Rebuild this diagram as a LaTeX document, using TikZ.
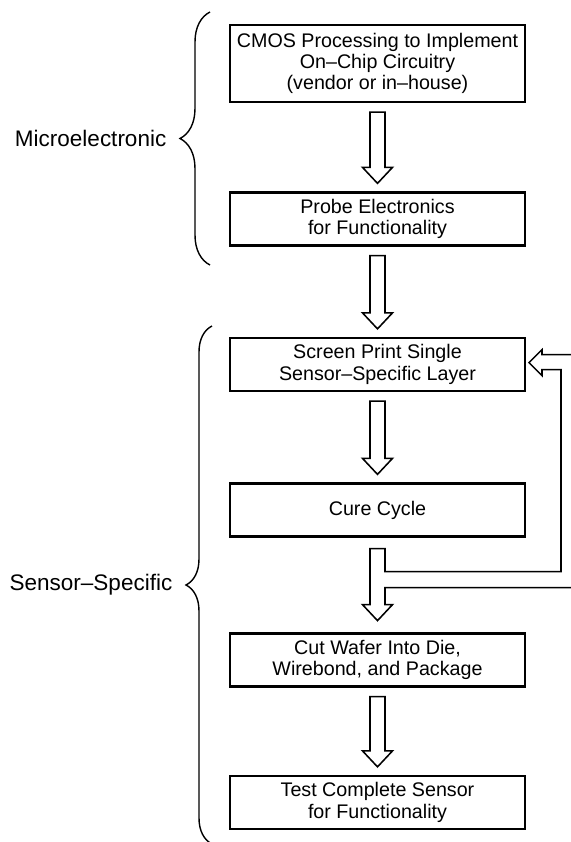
\documentclass[tikz,border=0pt]{standalone}
\usepackage{fontspec}
\setmainfont{Liberation Sans}
\usetikzlibrary{calc,decorations.pathreplacing}

\tikzset{
	stage/.style={draw, line width=1.6pt, minimum width=7.375cm, minimum height=1.325cm,
		align=center, inner sep=2pt, font=\fontsize{14}{15.2}\selectfont},
	hollow/.style={draw, line width=1.1pt, line join=miter},
	grp/.style={decorate, decoration={brace, amplitude=#1}, line width=1pt},
	grp/.default=0.75cm,
	grplabel/.style={inner sep=0pt, font=\fontsize{16}{19}\selectfont},
}

% hollow block arrow from one box down to the next
\newcommand{\blockarrow}[2]{%
	\draw[hollow] ($(#1.south)+(-7.5,9)$) -- ($(#2.north)+(-7.5,-24)$) -- ++(-7.5,0)
		-- ++(15,16) -- ++(15,-16) -- ++(-7.5,0) -- ($(#1.south)+(7.5,9)$) -- cycle;}

\begin{document}
\begin{tikzpicture}[x=0.025cm, y=-0.025cm]
	\useasboundingbox (0,0) rectangle (571,842);
	\clip (0,0) rectangle (571,842);
	%boxes
	\node[stage, minimum height=1.925cm] (cmos) at (377.5,63.5) {CMOS Processing to Implement\\On--Chip Circuitry\\(vendor or in--house)};
	\node[stage] (probe) at (377.5,219) {Probe Electronics\\for Functionality};
	\node[stage] (screen) at (377.5,364.5) {Screen Print Single\\Sensor--Specific Layer};
	\node[stage] (cure) at (377.5,510) {Cure Cycle};
	\node[stage] (cut) at (377.5,660) {Cut Wafer Into Die,\\Wirebond, and Package};
	\node[stage] (test) at (377.5,802.5) {Test Complete Sensor\\for Functionality};
	%arrows
	\blockarrow{cmos}{probe}
	\blockarrow{probe}{screen}
	\blockarrow{screen}{cure}
	\blockarrow{cut}{test}
	%cure -> cut, with the loop back to the screen print
	\draw[hollow] (cure.south) ++(-7.5,11) -- ++(0,56) -- ++(-7.5,0) -- ++(15,16) -- ++(15,-16)
		-- ++(-7.5,0) -- ++(0,-17) -- ++(191,0) -- ++(0,-233) -- ++(-34,0) -- ++(0,-5)
		-- ++(-13,13) -- ++(13,13) -- ++(0,-6) -- ++(19,0) -- ++(0,202) -- ++(-176,0)
		-- ++(0,-23) -- cycle;
	%braces
	\draw[grp] (210,265) -- (210,12) node[grplabel, midway, left=1.075cm] (micro) {Microelectronic};
	\draw[grp=0.65cm] (212,844) -- (212,326) node[grplabel, midway, left=0.975cm] (sensor) {Sensor--Specific};
\end{tikzpicture}
\end{document}
